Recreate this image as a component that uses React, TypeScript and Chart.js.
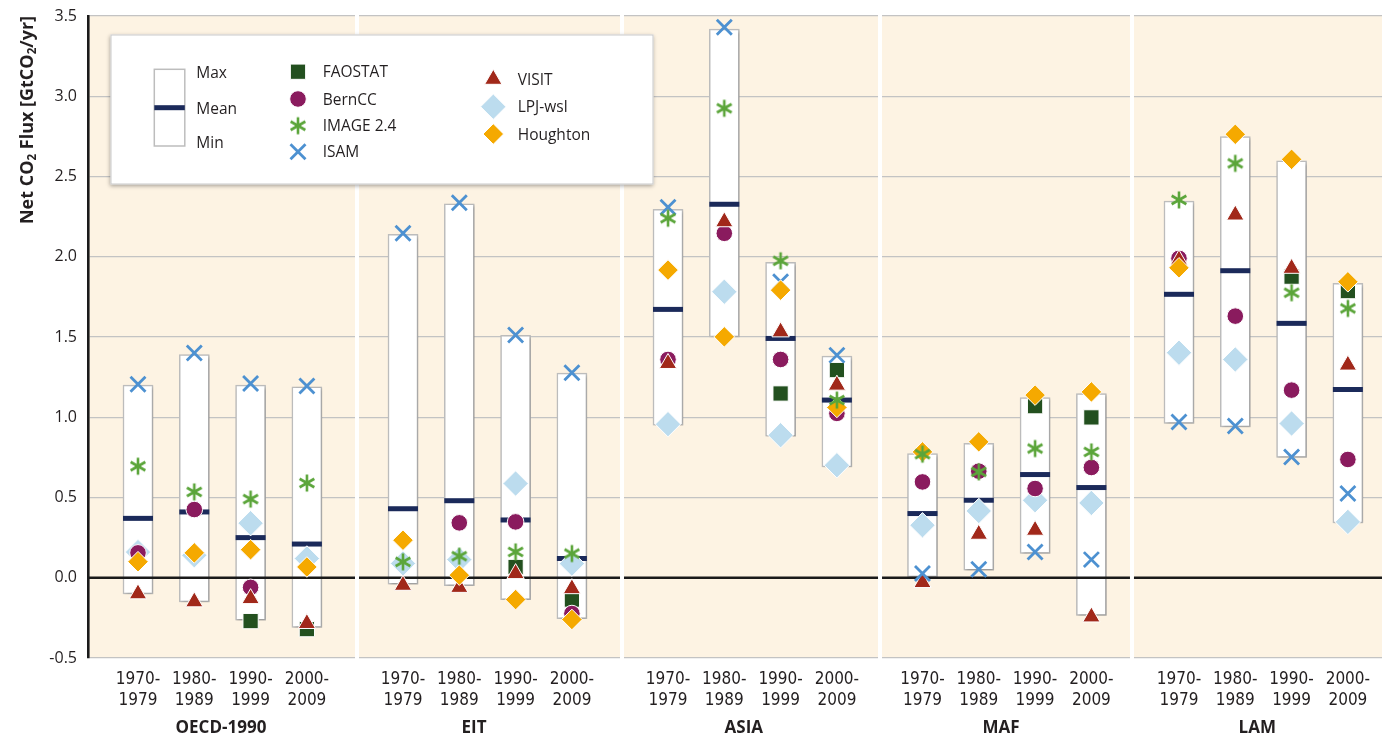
import React, { useEffect, useRef } from 'react';
import { Chart, registerables } from 'chart.js';
import { drawPoint } from 'chart.js/helpers';

Chart.register(...registerables);

// ---------------- DATA ----------------
const GROUPS = ['OECD-1990', 'EIT', 'ASIA', 'MAF', 'LAM'];
const PERIODS = [['1970-', '1979'], ['1980-', '1989'], ['1990-', '1999'], ['2000-', '2009']];
const Y_TICKS = [-0.5, 0, 0.5, 1, 1.5, 2, 2.5, 3, 3.5];

// order: OECD-1990 (4 periods), EIT, ASIA, MAF, LAM
const BOX_MAX = [
  1.2, 1.39, 1.2, 1.19,
  2.14, 2.33, 1.51, 1.275,
  2.295, 3.418, 1.965, 1.381,
  0.774, 0.837, 1.123, 1.148,
  2.347, 2.748, 2.597, 1.834,
];
const BOX_MIN = [
  -0.1, -0.15, -0.265, -0.31,
  -0.04, -0.05, -0.136, -0.255,
  0.951, 1.5, 0.882, 0.691,
  0.005, 0.047, 0.151, -0.234,
  0.961, 0.94, 0.749, 0.342,
];
const BOX_MEAN = [
  0.37, 0.41, 0.25, 0.21,
  0.43, 0.48, 0.36, 0.12,
  1.672, 2.327, 1.491, 1.107,
  0.4, 0.483, 0.643, 0.562,
  1.766, 1.913, 1.585, 1.173,
];
const FAOSTAT = [
  null, null, -0.27, -0.32,
  null, null, 0.067, -0.136,
  null, null, 1.148, 1.294,
  null, null, 1.069, 0.999,
  null, null, 1.876, 1.786,
];
const BERNCC = [
  0.155, 0.425, -0.06, null,
  null, 0.342, 0.348, -0.223,
  1.36, 2.146, 1.36, 1.024,
  0.597, 0.664, 0.556, 0.687,
  1.99, 1.63, 1.169, 0.737,
];
const IMAGE24 = [
  0.695, 0.535, 0.49, 0.59,
  0.099, 0.134, 0.161, 0.151,
  2.24, 2.925, 1.975, 1.107,
  0.77, 0.66, 0.805, 0.784,
  2.354, 2.582, 1.776, 1.678,
];
const ISAM = [
  1.205, 1.4, 1.21, 1.195,
  2.146, 2.337, 1.512, 1.277,
  2.308, 3.43, 1.844, 1.387,
  0.026, 0.053, 0.161, 0.113,
  0.971, 0.945, 0.753, 0.525,
];
const VISIT = [
  -0.1, -0.15, -0.13, -0.285,
  -0.047, -0.06, 0.026, -0.068,
  1.335, 2.218, 1.532, 1.2,
  -0.03, 0.271, 0.296, -0.244,
  1.98, 2.26, 1.928, 1.325,
];
const LPJ_WSL = [
  0.16, 0.14, 0.34, 0.12,
  0.089, 0.113, 0.587, 0.088,
  0.957, 1.782, 0.888, 0.701,
  0.327, 0.416, 0.483, 0.466,
  1.402, 1.36, 0.961, 0.348,
];
const HOUGHTON = [
  0.1, 0.155, 0.175, 0.067,
  0.234, 0.016, -0.136, -0.26,
  1.917, 1.501, 1.792, 1.061,
  0.784, 0.847, 1.138, 1.158,
  1.931, 2.763, 2.607, 1.844,
];

// ---------------- LAYOUT (x-scale units; one unit = one period step) ----------------
const LAYOUT = {
  groupStart: [0, 4.707, 9.414, 13.934, 18.49],
  dividers: [3.89, 8.597, 13.18, 17.655],
  groupLabelX: [1.474, 5.968, 10.76, 15.33, 19.88],
  xMin: -0.888,
  xMax: 22.096,
  top: 16,
};
const xOf = (k: number) => LAYOUT.groupStart[Math.floor(k / 4)] + (k % 4);

const CREAM = '#FDF3E3';
const TEXT = '#231F20';
const NAVY = '#1B2A5A';
const SANS = '"Open Sans", "Noto Sans", sans-serif';
const NARROW = '"Liberation Sans Narrow", "Arial Narrow", "DejaVu Sans Condensed", "Open Sans", sans-serif';

function makeAsterisk(color: string) {
  const c = document.createElement('canvas');
  c.width = 20;
  c.height = 20;
  const g = c.getContext('2d')!;
  g.strokeStyle = color;
  g.lineWidth = 2.6;
  g.lineCap = 'butt';
  const L = 8.5;
  g.beginPath();
  for (const deg of [90, 30, 150]) {
    const a = (deg * Math.PI) / 180;
    const dx = Math.cos(a) * L;
    const dy = Math.sin(a) * L;
    g.moveTo(10 - dx, 10 - dy);
    g.lineTo(10 + dx, 10 + dy);
  }
  g.stroke();
  return c;
}

export default function App() {
  const ref = useRef<HTMLCanvasElement | null>(null);

  useEffect(() => {
    if (!ref.current) return;
    const asterisk = makeAsterisk('#5BA53A');

    const STYLES: Record<string, any> = {
      FAOSTAT: { color: '#23501F', pointStyle: 'rect', radius: 10.8, border: '#ffffff', bw: 1 },
      BernCC: { color: '#8A1B5E', pointStyle: 'circle', radius: 8.3, border: '#ffffff', bw: 1 },
      'IMAGE 2.4': { color: '#5BA53A', pointStyle: asterisk, radius: 8, border: '#5BA53A', bw: 0 },
      ISAM: { color: '#4D91D1', pointStyle: 'crossRot', radius: 10.6, border: '#4D91D1', bw: 2.8 },
      VISIT: { color: '#A1281A', pointStyle: 'triangle', radius: 10, border: '#ffffff', bw: 1 },
      'LPJ-wsl': { color: '#BCDCEE', pointStyle: 'rectRot', radius: 12.7, border: '#ffffff', bw: 1 },
      Houghton: { color: '#F5A900', pointStyle: 'rectRot', radius: 10.3, border: '#ffffff', bw: 1 },
    };

    const series: [string, (number | null)[], number][] = [
      ['LPJ-wsl', LPJ_WSL, 80],
      ['FAOSTAT', FAOSTAT, 70],
      ['BernCC', BERNCC, 60],
      ['VISIT', VISIT, 50],
      ['ISAM', ISAM, 40],
      ['Houghton', HOUGHTON, 30],
      ['IMAGE 2.4', IMAGE24, 20],
    ];

    const pts = (arr: (number | null)[]) =>
      arr.map((v, k) => (v === null ? null : { x: xOf(k), y: v })).filter((p) => p !== null);

    const datasets: any[] = [
      {
        type: 'bar',
        label: 'Range',
        data: BOX_MAX.map((mx, k) => ({ x: xOf(k), y: [BOX_MIN[k], mx] })),
        backgroundColor: '#ffffff',
        borderColor: '#BDBDBD',
        borderWidth: 1.5,
        borderSkipped: false,
        barThickness: 30,
        order: 100,
      },
      {
        type: 'line',
        label: 'Mean',
        data: pts(BOX_MEAN),
        showLine: false,
        pointStyle: 'line',
        pointRadius: 15,
        pointHoverRadius: 15,
        pointBorderColor: NAVY,
        pointBackgroundColor: NAVY,
        pointBorderWidth: 5,
        pointHoverBorderWidth: 5,
        order: 90,
      },
      ...series.map(([name, arr, order]) => {
        const s = STYLES[name];
        return {
          type: 'line',
          label: name,
          data: pts(arr),
          showLine: false,
          pointStyle: s.pointStyle,
          pointRadius: s.radius,
          pointHoverRadius: s.radius,
          pointBackgroundColor: s.color,
          pointBorderColor: s.border,
          pointBorderWidth: s.bw,
          pointHoverBorderWidth: s.bw,
          order,
        };
      }),
    ];

    const decor = {
      id: 'decor',
      afterLayout(chart: any) {
        // keep the plotting area flush with the right edge and at the intended top
        const a = chart.chartArea;
        const { x, y } = chart.scales;
        if (a.right !== chart.width || a.top !== LAYOUT.top) {
          a.right = chart.width;
          a.top = LAYOUT.top;
          a.width = a.right - a.left;
          a.height = a.bottom - a.top;
          x.right = a.right;
          x.width = x.right - x.left;
          x.configure();
          y.top = a.top;
          y.height = y.bottom - y.top;
          y.configure();
        }
      },
      beforeDraw(chart: any) {
        const { ctx, chartArea: a } = chart;
        ctx.save();
        ctx.fillStyle = CREAM;
        ctx.fillRect(a.left, a.top, a.right - a.left, a.bottom - a.top);
        ctx.restore();
      },
      beforeDatasetsDraw(chart: any) {
        const { ctx, chartArea: a, scales } = chart;
        ctx.save();
        ctx.fillStyle = '#ffffff';
        for (const d of LAYOUT.dividers) {
          const px = scales.x.getPixelForValue(d);
          ctx.fillRect(px - 2, a.top - 1, 4, a.bottom - a.top + 2);
        }
        ctx.restore();
      },
      beforeDatasetDraw(chart: any, args: any) {
        if (args.index !== 0) return;
        const ctx = chart.ctx;
        ctx.save();
        ctx.shadowColor = 'rgba(0,0,0,0.22)';
        ctx.shadowBlur = 3;
        ctx.shadowOffsetX = 1.5;
        ctx.shadowOffsetY = 1.5;
      },
      afterDatasetDraw(chart: any, args: any) {
        if (args.index !== 0) return;
        const { ctx, chartArea: a, scales } = chart;
        ctx.restore();
        // zero line, interrupted at the panel dividers
        const y0 = scales.y.getPixelForValue(0);
        const edges = [a.left, ...LAYOUT.dividers.map((d) => scales.x.getPixelForValue(d)), a.right];
        ctx.save();
        ctx.strokeStyle = '#1A1A1A';
        ctx.lineWidth = 2.5;
        ctx.beginPath();
        for (let i = 0; i < edges.length - 1; i++) {
          const l = i === 0 ? edges[i] : edges[i] + 2;
          const r = i === edges.length - 2 ? edges[i + 1] : edges[i + 1] - 2;
          ctx.moveTo(l, y0);
          ctx.lineTo(r, y0);
        }
        ctx.stroke();
        ctx.restore();
      },
      afterDraw(chart: any) {
        const { ctx, chartArea: a, scales } = chart;
        ctx.save();
        // region labels
        ctx.fillStyle = TEXT;
        ctx.font = `bold 17px ${SANS}`;
        ctx.textAlign = 'center';
        ctx.textBaseline = 'alphabetic';
        GROUPS.forEach((g, i) => {
          ctx.fillText(g, scales.x.getPixelForValue(LAYOUT.groupLabelX[i]), a.bottom + 75);
        });

        // y-axis title with subscripts
        const parts: [string, boolean][] = [
          ['Net CO', false],
          ['2', true],
          [' Flux [GtCO', false],
          ['2', true],
          ['/yr]', false],
        ];
        const big = `bold 18px ${SANS}`;
        const small = `bold 11.5px ${SANS}`;
        let total = 0;
        for (const [t, sub] of parts) {
          ctx.font = sub ? small : big;
          total += ctx.measureText(t).width;
        }
        ctx.translate(26, 120);
        ctx.rotate(-Math.PI / 2);
        ctx.textAlign = 'left';
        let cx = -total / 2;
        for (const [t, sub] of parts) {
          ctx.font = sub ? small : big;
          ctx.fillText(t, cx, sub ? 10 : 6.5);
          cx += ctx.measureText(t).width;
        }
        ctx.restore();

        // legend
        const lx = a.left + 22.5;
        const ly = a.top + 18.5;
        ctx.save();
        ctx.shadowColor = 'rgba(0,0,0,0.35)';
        ctx.shadowBlur = 4;
        ctx.shadowOffsetX = -1;
        ctx.shadowOffsetY = 1.5;
        ctx.fillStyle = '#ffffff';
        ctx.fillRect(lx, ly, 543, 150);
        ctx.restore();
        ctx.save();
        ctx.strokeStyle = '#C9C9C9';
        ctx.lineWidth = 1;
        ctx.strokeRect(lx + 0.5, ly + 0.5, 542, 149);

        ctx.fillStyle = '#ffffff';
        ctx.strokeStyle = '#BDBDBD';
        ctx.lineWidth = 1.5;
        ctx.fillRect(lx + 43.8, ly + 34.8, 30.5, 76.7);
        ctx.strokeRect(lx + 43.8, ly + 34.8, 30.5, 76.7);
        ctx.strokeStyle = NAVY;
        ctx.lineWidth = 5;
        ctx.beginPath();
        ctx.moveTo(lx + 43.8, ly + 73.2);
        ctx.lineTo(lx + 74.3, ly + 73.2);
        ctx.stroke();

        ctx.fillStyle = TEXT;
        ctx.font = `15.5px ${SANS}`;
        ctx.textAlign = 'left';
        ctx.textBaseline = 'alphabetic';
        ctx.fillText('Max', lx + 85.8, ly + 43.8);
        ctx.fillText('Mean', lx + 85.8, ly + 79);
        ctx.fillText('Min', lx + 85.8, ly + 113.5);

        const entry = (name: string, mx: number, tx: number, cy: number) => {
          const s = STYLES[name];
          ctx.save();
          ctx.fillStyle = s.color;
          ctx.strokeStyle = s.border;
          ctx.lineWidth = s.bw;
          drawPoint(ctx, { pointStyle: s.pointStyle, radius: s.radius, rotation: 0, borderWidth: s.bw } as any, mx, cy);
          ctx.restore();
          ctx.fillStyle = TEXT;
          ctx.fillText(name, tx, cy + 5.5);
        };
        const col2 = ['FAOSTAT', 'BernCC', 'IMAGE 2.4', 'ISAM'];
        const col2y = [37.2, 64.5, 91.2, 117.2];
        col2.forEach((n, i) => entry(n, lx + 187.5, lx + 212.2, ly + col2y[i]));
        const col3 = ['VISIT', 'LPJ-wsl', 'Houghton'];
        const col3y = [44.8, 72.2, 99.5];
        col3.forEach((n, i) => entry(n, lx + 382.8, lx + 407.2, ly + col3y[i]));
        ctx.restore();
      },
    };

    const chart = new Chart(ref.current, {
      type: 'bar',
      data: { datasets },
      options: {
        animation: false,
        responsive: true,
        maintainAspectRatio: false,
        devicePixelRatio: 1,
        layout: { padding: { top: LAYOUT.top, right: 0, bottom: 0, left: 0 } },
        plugins: { legend: { display: false }, tooltip: { enabled: false } },
        events: [],
        scales: {
          x: {
            type: 'linear',
            min: LAYOUT.xMin,
            max: LAYOUT.xMax,
            bounds: 'data',
            offset: false,
            grid: { display: false, offset: false },
            border: { display: false },
            afterBuildTicks: (scale: any) => {
              scale.ticks = BOX_MAX.map((_, k) => ({ value: xOf(k) }));
            },
            afterFit: (scale: any) => {
              scale.height = 77;
              scale.paddingLeft = 0;
              scale.paddingRight = 0;
            },
            ticks: {
              autoSkip: false,
              maxRotation: 0,
              minRotation: 0,
              padding: 4,
              color: TEXT,
              font: { family: NARROW, size: 17, lineHeight: 1.18 },
              callback: (_v: any, i: number) => PERIODS[i % 4],
            },
          },
          y: {
            type: 'linear',
            min: -0.5,
            max: 3.5,
            afterBuildTicks: (scale: any) => {
              scale.ticks = Y_TICKS.map((v) => ({ value: v }));
            },
            afterFit: (scale: any) => {
              scale.width = 88;
              scale.paddingTop = 0;
              scale.paddingBottom = 0;
            },
            grid: {
              drawTicks: true,
              tickLength: 11,
              tickColor: 'rgba(0,0,0,0)',
              color: (c: any) => (c.tick && c.tick.value === 0 ? 'rgba(0,0,0,0)' : '#C3C3C3'),
              lineWidth: 1.3,
            },
            border: { display: true, color: '#1A1A1A', width: 2.6 },
            ticks: {
              padding: 0,
              color: TEXT,
              font: { family: SANS, size: 16 },
              callback: (v: any) => Number(v).toFixed(1),
            },
          },
        },
      } as any,
      plugins: [decor],
    });
    return () => chart.destroy();
  }, []);

  return (
    <div style={{ position: 'fixed', left: 0, top: 0, width: 1382, height: 735, background: '#ffffff' }}>
      <canvas ref={ref} />
    </div>
  );
}
